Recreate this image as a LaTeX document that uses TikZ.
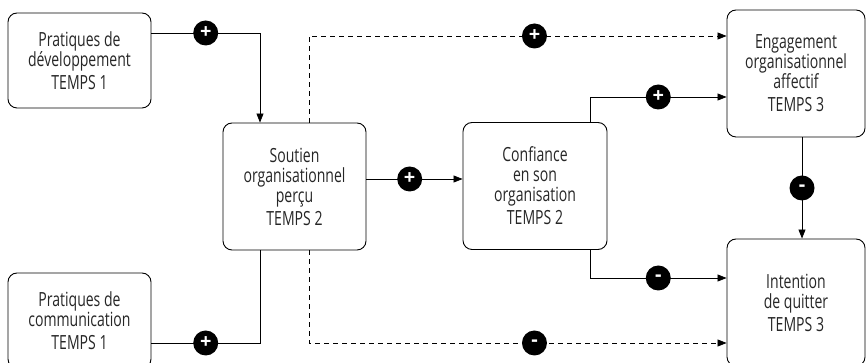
\documentclass[tikz,border=0pt]{standalone}
\usepackage{fontspec}
\setmainfont[FakeStretch=0.72]{Open Sans}
\newfontfamily\signfont{Open Sans}
\usetikzlibrary{arrows.meta}
\begin{document}
\begin{tikzpicture}[>={Triangle[length=9pt,width=7pt]},x=1pt,y=1pt,
	boite/.style={draw,rounded corners=9pt,line width=0.9pt,align=center,minimum width=143pt,minimum height=127pt,font=\fontsize{19.5}{20}\selectfont,text=black!85},
	signe/.style={circle,fill=black,text=white,inner sep=0pt,minimum size=25pt,font=\signfont\fontsize{20}{20}\selectfont\bfseries},
	lien/.style={line width=0.8pt},
	tirets/.style={lien,dash pattern=on 5pt off 4pt}]
	\useasboundingbox (0,0) rectangle (866,363);
	%boites
	\node[boite,minimum height=95pt] (dev) at (79.5,302.5){Pratiques de\\développement\\[3pt]TEMPS 1};
	\node[boite,minimum height=95pt] (comm) at (79.5,42.5){Pratiques de\\communication\\[3pt]TEMPS 1};
	\node[boite] (sout) at (294.5,176.5){Soutien\\organisationnel\\perçu\\[3pt]TEMPS 2};
	\node[boite,minimum width=144pt] (conf) at (535,177){Confiance\\en son\\organisation\\[3pt]TEMPS 2};
	\node[boite,minimum width=138pt] (eng) at (796,289.5){Engagement\\organisationnel\\affectif\\[3pt]TEMPS 3};
	\node[boite,minimum width=138pt] (int) at (796,60.5){Intention\\de quitter\\[3pt]TEMPS 3};
	%points d'attache
	\coordinate (d1) at ([yshift=27.5pt]dev.east);\coordinate (s1) at ([xshift=-34.5pt]sout.north);
	\coordinate (c1) at ([yshift=-22.5pt]comm.east);\coordinate (s2) at ([xshift=-34.5pt]sout.south);
	\coordinate (s3) at ([xshift=14.5pt]sout.north);\coordinate (e1) at ([yshift=37.5pt]eng.west);
	\coordinate (s4) at ([xshift=14.5pt]sout.south);\coordinate (i1) at ([yshift=-40.5pt]int.west);
	\coordinate (k1) at ([xshift=55pt]conf.north);\coordinate (e2) at ([yshift=-23.5pt]eng.west);
	\coordinate (k2) at ([xshift=55pt]conf.south);\coordinate (i2) at ([yshift=24.5pt]int.west);
	%fleches
	\draw[lien,->] (d1)--node[signe]{+}(d1 -| s1)--(s1);
	\draw[lien] (c1)--node[signe]{+}(c1 -| s2)--(s2);
	\draw[lien,->] ([yshift=7.5pt]sout.east)--node[signe,pos=0.45]{+}([yshift=7pt]conf.west);
	\draw[tirets,->] (s3)--(s3 |- e1)--node[signe,pos=0.54]{+}(e1);
	\draw[tirets,->] (s4)--(s4 |- i1)--node[signe,pos=0.54]{-}(i1);
	\draw[lien,->] (k1)--(k1 |- e2)--node[signe]{+}(e2);
	\draw[lien,->] (k2)--(k2 |- i2)--node[signe]{-}(i2);
	\draw[lien,->] ([xshift=6pt]eng.south)--node[signe]{-}([xshift=6pt]int.north);
\end{tikzpicture}
\end{document}
